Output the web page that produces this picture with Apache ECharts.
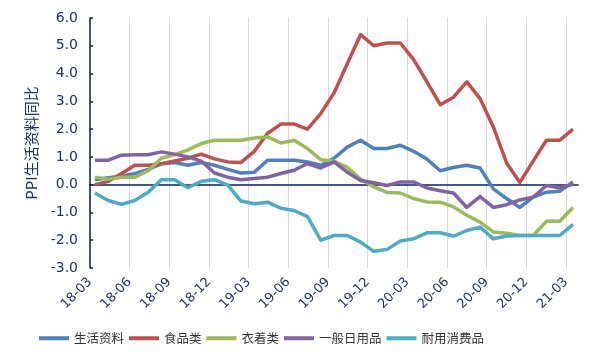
<!DOCTYPE html>
<html><head><meta charset="utf-8">
<script src="https://cdn.jsdelivr.net/npm/echarts@6/dist/echarts.min.js"></script>
<style>html,body{margin:0;padding:0;background:#fff}#c{width:600px;height:360px}</style>
</head><body><div id="c"></div>
<script>
var quarterLabels = ['18-03','18-06','18-09','18-12','19-03','19-06','19-09','19-12','20-03','20-06','20-09','20-12','21-03'];
var months = ['18-03','18-04','18-05','18-06','18-07','18-08','18-09','18-10','18-11','18-12',
  '19-01','19-02','19-03','19-04','19-05','19-06','19-07','19-08','19-09','19-10','19-11','19-12',
  '20-01','20-02','20-03','20-04','20-05','20-06','20-07','20-08','20-09','20-10','20-11','20-12',
  '21-01','21-02','21-03'];
var seriesNames = ['生活资料','食品类','衣着类','一般日用品','耐用消费品'];
var shenghuo = [0.18,0.25,0.3,0.4,0.55,0.75,0.8,0.7,0.8,0.7,0.55,0.42,0.45,0.88,0.88,0.88,0.82,0.7,0.95,1.35,1.6,1.3,1.3,1.42,1.2,0.92,0.5,0.62,0.7,0.6,-0.15,-0.5,-0.82,-0.45,-0.27,-0.24,0.1];
var shipin = [0.0,0.12,0.4,0.7,0.7,0.75,0.85,0.95,1.1,0.93,0.82,0.8,1.2,1.85,2.18,2.18,2.0,2.56,3.3,4.35,5.4,5.0,5.1,5.1,4.5,3.7,2.88,3.15,3.7,3.1,2.08,0.78,0.08,0.85,1.6,1.6,2.0];
var yizhuo = [0.27,0.2,0.27,0.27,0.5,0.95,1.08,1.25,1.48,1.6,1.6,1.6,1.68,1.72,1.5,1.6,1.3,0.9,0.85,0.62,0.2,-0.08,-0.28,-0.3,-0.5,-0.62,-0.63,-0.8,-1.1,-1.35,-1.7,-1.75,-1.83,-1.83,-1.32,-1.32,-0.82];
var riyong = [0.88,0.88,1.06,1.08,1.08,1.18,1.1,1.0,0.85,0.42,0.27,0.18,0.22,0.27,0.4,0.52,0.76,0.6,0.82,0.45,0.15,0.07,-0.03,0.1,0.1,-0.12,-0.22,-0.3,-0.82,-0.43,-0.82,-0.72,-0.55,-0.45,-0.03,-0.12,0.01];
var naiyong = [-0.3,-0.57,-0.71,-0.57,-0.27,0.18,0.18,-0.11,0.12,0.18,-0.02,-0.59,-0.69,-0.63,-0.85,-0.93,-1.15,-2.0,-1.83,-1.83,-2.07,-2.4,-2.33,-2.03,-1.95,-1.73,-1.73,-1.85,-1.65,-1.53,-1.95,-1.85,-1.83,-1.83,-1.83,-1.83,-1.43];
var colors = ['#4f81bd','#c0504d','#9bbb59','#8064a2','#4bacc6'];
var allData = [shenghuo, shipin, yizhuo, riyong, naiyong];

var navy = '#23325e';
var chart = echarts.init(document.getElementById('c'));
var series = allData.map(function(d, i){
  return {
    name: seriesNames[i], type: 'line', xAxisIndex: 1, yAxisIndex: 1,
    data: d, symbol: 'none', smooth: false,
    lineStyle: {width: 3.5, color: colors[i], join: 'round'},
    itemStyle: {color: colors[i]}
  };
});
chart.setOption({
  animation: false,
  color: colors,
  textStyle: {fontFamily: '"Noto Sans CJK SC", "Noto Sans", sans-serif'},
  grid: [
    {left: 90, top: 18, width: 476, height: 250},
    {left: 95, top: 18, width: 478, height: 250},
    {left: 90, top: 18, width: 488, height: 250}
  ],
  legend: {
    left: 34, top: 327, itemGap: 5, itemWidth: 30, itemHeight: 4, icon: 'rect',
    textStyle: {fontSize: 12.5, color: '#333333'},
    data: seriesNames
  },
  xAxis: [
    {gridIndex: 0, type: 'category', data: quarterLabels, boundaryGap: false,
     axisLine: {show: false, onZero: false}, axisTick: {show: false},
     splitLine: {show: true, lineStyle: {color: '#d9d9d9', width: 1}},
     axisLabel: {rotate: 45, interval: 0, margin: 12, fontSize: 13, color: navy, fontFamily: 'DejaVu Sans'}},
    {gridIndex: 1, type: 'category', data: months, boundaryGap: false, show: false},
    {gridIndex: 2, type: 'value', min: 0, max: 1,
     axisLine: {show: true, onZero: true, lineStyle: {color: '#0f1f5f', width: 1.5}},
     axisTick: {show: false}, axisLabel: {show: false}, splitLine: {show: false}}
  ],
  yAxis: [
    {gridIndex: 0, type: 'value', min: -3, max: 6, interval: 1,
     name: 'PPI生活资料同比', nameLocation: 'middle', nameGap: 51, nameRotate: 90,
     nameTextStyle: {fontSize: 15, color: navy},
     axisLine: {show: true, lineStyle: {color: '#0f1f5f', width: 1.5}},
     axisTick: {show: true, inside: true, length: 3, lineStyle: {color: '#0f1f5f', width: 1.5}},
     splitLine: {show: false},
     axisLabel: {margin: 12, fontSize: 14, color: navy, fontFamily: 'DejaVu Sans',
       formatter: function(v){ return v.toFixed(1); }}},
    {gridIndex: 1, type: 'value', min: -3, max: 6, interval: 1, show: false, splitLine: {show: false}},
    {gridIndex: 2, type: 'value', min: -3, max: 6, interval: 1, show: false, splitLine: {show: false}}
  ],
  series: series
});
</script></body></html>
